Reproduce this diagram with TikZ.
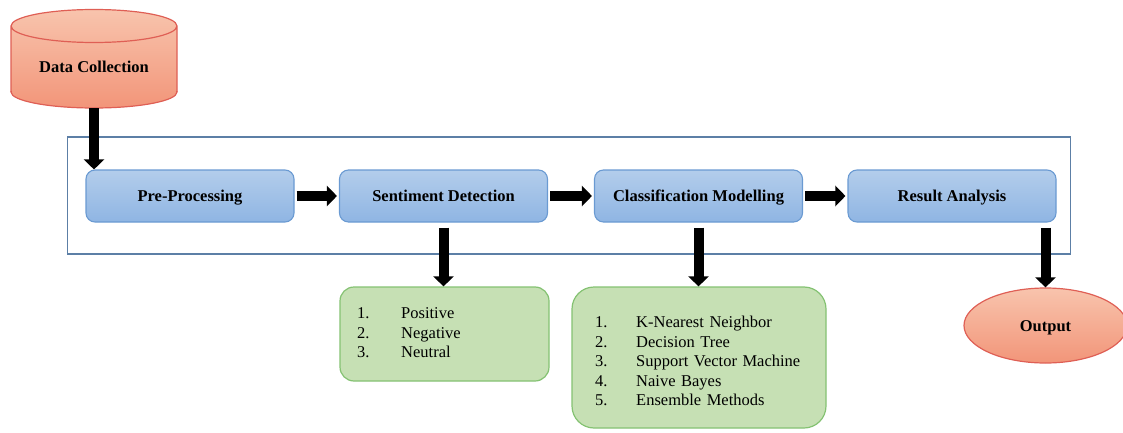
\documentclass[tikz,border=0pt]{standalone}
\usepackage{fontspec}
\setmainfont{Liberation Serif}
\usetikzlibrary{arrows.meta,shapes.geometric}
\definecolor{bluetop}{HTML}{B3CDEB}
\definecolor{bluebot}{HTML}{8FB5E3}
\definecolor{blueline}{HTML}{6A9AD2}
\definecolor{frameline}{HTML}{5C7FA6}
\definecolor{greenfill}{HTML}{C6E0B4}
\definecolor{greenline}{HTML}{84C272}
\definecolor{orangetop}{HTML}{F8C4AD}
\definecolor{orangebot}{HTML}{F29579}
\definecolor{orangeline}{HTML}{DF5F55}
\begin{document}
\begin{tikzpicture}[x=1pt,y=-1pt,
  lbl/.style={font=\fontsize{16.5}{19.5}\selectfont\rmfamily\bfseries, text height=11pt, text depth=0pt},
  stepbox/.style={draw=blueline, line width=1.1pt, rounded corners=9pt, top color=bluetop, bottom color=bluebot, minimum width=208pt, minimum height=52pt, inner sep=0pt, lbl},
  listbox/.style={draw=greenline, line width=1.2pt, fill=greenfill, inner sep=0pt},
  listtext/.style={inner sep=0pt, align=left, anchor=west, font=\fontsize{16.5}{19.5}\selectfont\rmfamily\mdseries},
  orangeshape/.style={draw=orangeline, line width=1.2pt, top color=orangetop, bottom color=orangebot},
  bigarrow/.style={line width=10pt, -{Triangle[width=20pt,length=10pt]}},
]
\useasboundingbox (0,0) rectangle (1123,433);
% Data Collection cylinder
\shade[top color=orangetop, bottom color=orangebot] (11,26) rectangle (177,92) (94,92) ellipse (83pt and 16pt) (94,26) ellipse (83pt and 16.5pt);
\draw[orangeline, line width=1.2pt] (11,26) -- (11,92) (177,26) -- (177,92) (94,26) ellipse (83pt and 16.5pt);
\begin{scope}
\clip (0,92) rectangle (200,120);
\draw[orangeline, line width=1.2pt] (94,92) ellipse (83pt and 16pt);
\end{scope}
\node[lbl, minimum width=166pt, minimum height=82pt, inner sep=0pt] (dc) at (94,67) {Data Collection};
% frame
\node[draw=frameline, line width=1.5pt, minimum width=1003pt, minimum height=117pt, inner sep=0pt] (frame) at (569,195.5) {};
% steps
\node[stepbox] (pp) at (190,196) {Pre-Processing};
\node[stepbox] (sd) at (443.5,196) {Sentiment Detection};
\node[stepbox] (cm) at (698.5,196) {Classification Modelling};
\node[stepbox] (ra) at (952,196) {Result Analysis};
% lists
\node[listbox, rounded corners=14pt, minimum width=209pt, minimum height=94pt] (sl) at (444.5,334) {};
\node[listtext, text width=170pt] (sltext) at (357,333) {\makebox[44pt][l]{1.}Positive\\ \makebox[44pt][l]{2.}Negative\\ \makebox[44pt][l]{3.}Neutral};
\node[listbox, rounded corners=22pt, minimum width=254pt, minimum height=141pt] (cl) at (699,357.5) {};
\node[listtext, text width=215pt] (cltext) at (595,361) {\makebox[41pt][l]{1.}K-Nearest Neighbor\\ \makebox[41pt][l]{2.}Decision Tree\\ \makebox[41pt][l]{3.}Support Vector Machine\\ \makebox[41pt][l]{4.}Naive Bayes\\ \makebox[41pt][l]{5.}Ensemble Methods};
% output
\node[orangeshape, ellipse, minimum width=163pt, minimum height=75pt, inner sep=0pt, lbl] (out) at (1045.5,325.5) {Output};
% arrows
\draw[bigarrow] (dc.south) -- (dc.south |- pp.north);
\draw[bigarrow, shorten <=2pt, shorten >=2pt] (pp) -- (sd);
\draw[bigarrow, shorten <=2pt, shorten >=2pt] (sd) -- (cm);
\draw[bigarrow, shorten <=2pt, shorten >=2pt] (cm) -- (ra);
\draw[bigarrow, shorten <=5pt] (sd.south) -- (sd.south |- sl.north);
\draw[bigarrow, shorten <=5pt] (cm.south) -- (cm.south |- cl.north);
\draw[bigarrow, shorten <=5pt] (out.north |- ra.south) -- (out.north);
\end{tikzpicture}
\end{document}
